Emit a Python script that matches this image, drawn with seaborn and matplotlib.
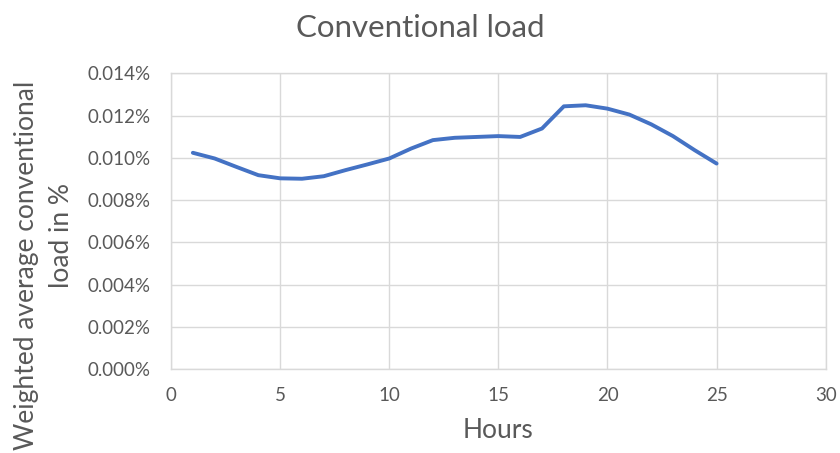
import matplotlib
matplotlib.use("Agg")
import matplotlib.pyplot as plt
import seaborn as sns
import pandas as pd
from matplotlib.ticker import FuncFormatter, MultipleLocator

hours = list(range(1, 26))
load_pct = [0.01024, 0.00997, 0.00957, 0.00918, 0.00903, 0.00901, 0.00913, 0.00942,
            0.00969, 0.00997, 0.01044, 0.01084, 0.01095, 0.01099, 0.01103, 0.01099,
            0.01139, 0.01244, 0.01249, 0.01233, 0.01205, 0.01159, 0.01103, 0.01036,
            0.00973]

df = pd.DataFrame({"Hours": hours, "load": load_pct})

sns.set_theme(style="white")
plt.rcParams['font.family'] = ['Lato', 'DejaVu Sans']

fig = plt.figure(figsize=(8.4, 4.53), dpi=100)
ax = fig.add_axes([0.2036, 0.1854, 0.7794, 0.6526])

sns.lineplot(data=df, x="Hours", y="load", ax=ax, color="#4472C4", linewidth=2.8,
             solid_joinstyle="round", solid_capstyle="round")

ax.set_xlim(0, 30)
ax.set_ylim(0, 0.014)
ax.xaxis.set_major_locator(MultipleLocator(5))
ax.yaxis.set_major_locator(MultipleLocator(0.002))
ax.yaxis.set_major_formatter(FuncFormatter(lambda v, p: f"{v:.3f}%"))
ax.grid(True, color="#d9d9d9", linewidth=1.0)
ax.set_axisbelow(True)
for s in ax.spines.values():
    s.set_color("#d9d9d9")
    s.set_linewidth(1.0)
ax.tick_params(axis="both", length=0, colors="#595959", labelsize=13.5)
ax.tick_params(axis="y", pad=15)
ax.tick_params(axis="x", pad=13)

ax.set_xlabel("Hours", fontsize=19, color="#595959", labelpad=10)
ax.set_ylabel("")
fig.text(0.031, 0.415, "Weighted average conventional", rotation=90, ha="center",
         va="center", fontsize=19, color="#595959")
fig.text(0.0735, 0.481, "load in %", rotation=90, ha="center",
         va="center", fontsize=19, color="#595959")
fig.text(0.5, 0.918, "Conventional load", ha="center", va="baseline", fontsize=22.5,
         color="#595959")

fig.savefig("out.png", dpi=100)
